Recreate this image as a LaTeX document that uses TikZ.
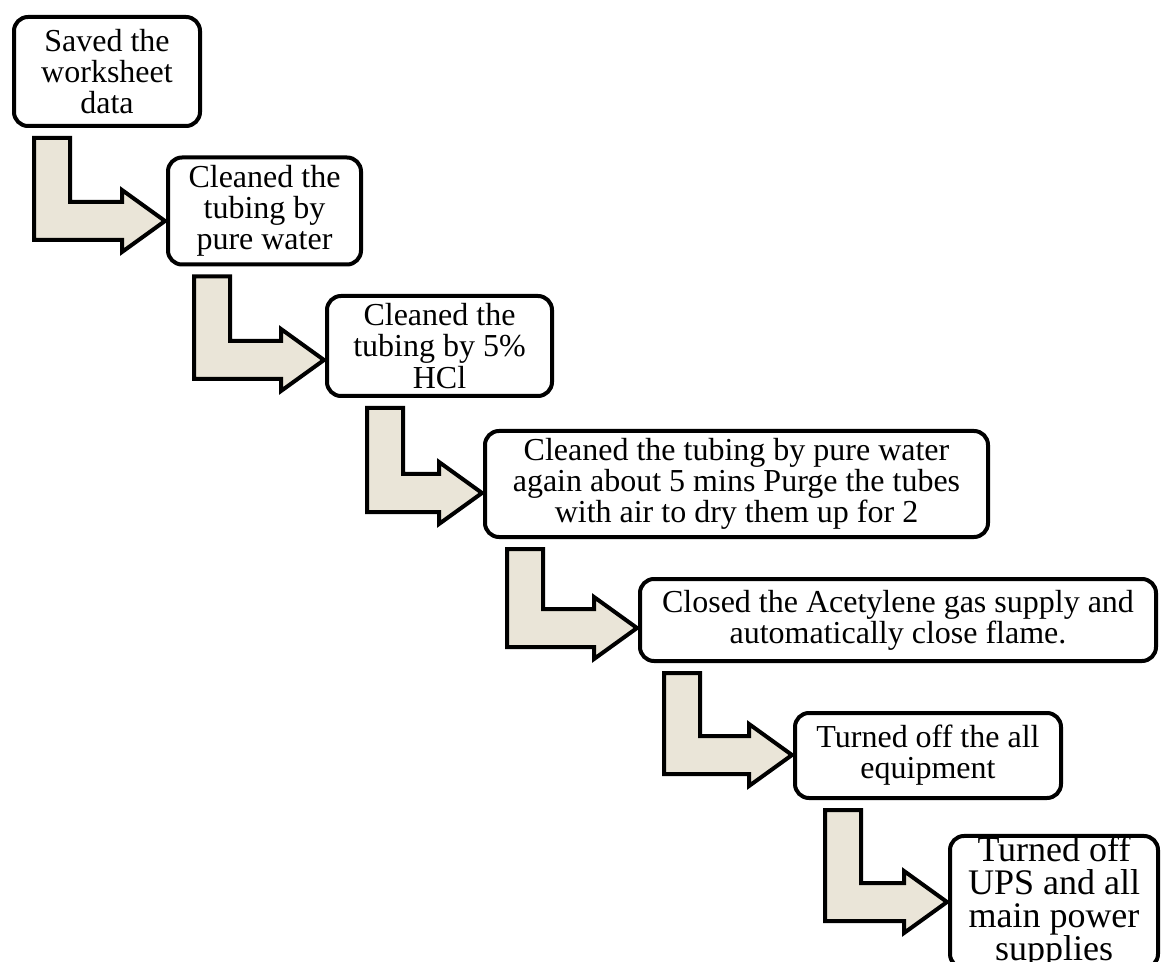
\documentclass[tikz,border=0pt]{standalone}
\usepackage{fontspec}
\setmainfont{Liberation Serif}
\usetikzlibrary{calc}
\definecolor{arrowfill}{RGB}{234,229,216}

% L-shaped block arrow: #1 source box, #2 target box,
% #3 left edge of the vertical bar (px), #4 height of the tip (px)
\newcommand{\lflow}[4]{%
  \draw[flowarrow] let \p1=(#1.south), \p2=(#2.west) in
    ({#3*0.5pt+1pt},{\y1-5pt}) -- ({#3*0.5pt+19pt},{\y1-5pt})
    -- ({#3*0.5pt+19pt},{-#4*0.5pt+9.5pt}) -- ({\x2-22pt},{-#4*0.5pt+9.5pt})
    -- ({\x2-22pt},{-#4*0.5pt+15.5pt}) -- ({\x2-0.5pt},{-#4*0.5pt})
    -- ({\x2-22pt},{-#4*0.5pt-15.5pt}) -- ({\x2-22pt},{-#4*0.5pt-9.5pt})
    -- ({#3*0.5pt+1pt},{-#4*0.5pt-9.5pt}) -- cycle;}

\begin{document}
\begin{tikzpicture}[x=0.5pt,y=-0.5pt,
  stepbox/.style={draw=black, line width=2pt, rounded corners=7pt,
    fill=white, align=center, inner sep=0pt,
    font=\fontsize{16pt}{15.6pt}\selectfont},
  flowarrow/.style={draw=black, line width=2pt, fill=arrowfill, line join=miter}]
\useasboundingbox (0,0) rectangle (1162,962);
\clip (0,0) rectangle (1162,962);

\node[stepbox, minimum width=93pt, minimum height=54.5pt] (s1) at (107,71.5)
  {Saved the\\worksheet\\data};
\node[stepbox, minimum width=96.5pt, minimum height=53.5pt] (s2) at (264.5,211)
  {Cleaned the\\tubing by\\pure water};
\node[stepbox, minimum width=112.5pt, minimum height=50pt] (s3) at (439.5,346)
  {Cleaned the\\tubing by 5\%\\HCl};
\node[stepbox, minimum width=251.5pt, minimum height=53pt] (s4) at (736.5,484)
  {Cleaned the tubing by pure water\\again about 5 mins Purge the tubes\\with air to dry them up for 2};
\node[stepbox, minimum width=258pt, minimum height=41pt] (s5) at (898,620)
  {Closed the Acetylene gas supply and\\automatically close flame.};
\node[stepbox, minimum width=133pt, minimum height=42.5pt] (s6) at (928,755.5)
  {Turned off the all\\equipment};
\node[stepbox, minimum width=104pt, minimum height=62pt,
  font=\fontsize{18pt}{16.5pt}\selectfont] (s7) at (1054,902)
  {Turned off\\UPS and all\\main power\\supplies};

\lflow{s1}{s2}{32}{221}
\lflow{s2}{s3}{192}{360}
\lflow{s3}{s4}{365}{493}
\lflow{s4}{s5}{505}{628}
\lflow{s5}{s6}{662}{755}
\lflow{s6}{s7}{823}{902}
\end{tikzpicture}
\end{document}
